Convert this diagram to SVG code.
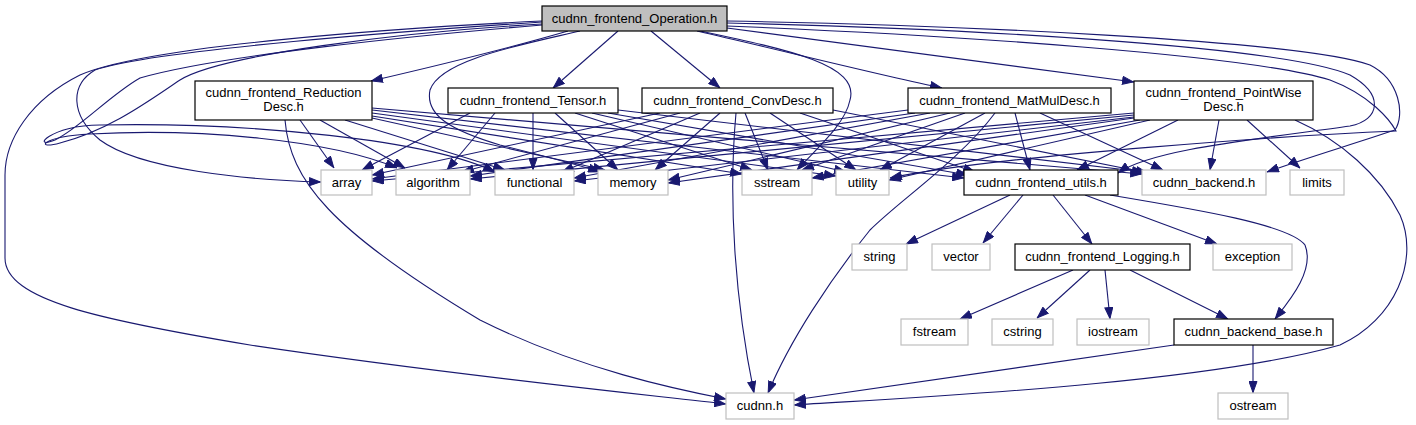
<svg xmlns="http://www.w3.org/2000/svg" width="1416" height="425" viewBox="0 0 1416 425">
<defs>
<marker id="ah" viewBox="0 0 12 9" refX="12" refY="4.5" markerWidth="12" markerHeight="9" markerUnits="userSpaceOnUse" orient="auto">
<path d="M0.5,0.5 L11.5,4.5 L0.5,8.5 Z" fill="#191970" stroke="#191970" stroke-width="1"/>
</marker>
<style>
.e path{fill:none;stroke:#191970;stroke-width:1.1;marker-end:url(#ah)}
.n rect{fill:#ffffff;stroke:#000000;stroke-width:1.2}
.x rect{fill:#ffffff;stroke:#bfbfbf;stroke-width:1.2}
.r rect{fill:#bfbfbf;stroke:#000000;stroke-width:1.2}
text{font-family:"Liberation Sans",Arial,Helvetica,sans-serif;font-size:13px;text-anchor:middle;fill:#000000}
</style>
</defs>
<rect width="1416" height="425" fill="#ffffff"/>
<g id="edges" class="e">
<!-- Operation -->
<path d="M568,31 C520,45 440,65 371,81"/>
<path d="M618,31 L553,88"/>
<path d="M651,31 L720,88"/>
<path d="M697,31 C780,50 880,75 942,88"/>
<path d="M727,28 C900,50 1050,70 1134,82"/>
<path d="M700,31 C790,50 860,65 850,100 C845,125 815,150 797,170"/>
<path d="M542,21 C400,28 150,45 80,75 C30,100 5,140 5,175 L5,258 C5,300 100,320 250,345 C450,375 650,395 726,404"/>
<path d="M542,22 C420,30 150,50 95,70 C70,85 70,115 100,140 C140,170 250,180 321,182"/>
<path d="M542,24 C400,32 220,55 180,80 C150,100 110,130 60,143 C35,150 40,137 90,134 C200,128 330,140 397,168"/>
<path d="M542,25 C420,35 220,55 140,78 C110,95 80,128 55,140 C30,150 50,125 100,125 C250,122 430,140 495,172"/>
<path d="M580,31 C520,45 440,60 430,90 C425,115 450,130 500,145 C540,155 580,165 600,172"/>
<path d="M727,26 C950,35 1250,55 1330,80 C1370,95 1390,120 1396,131 C1300,135 1000,155 890,178"/>
<path d="M727,23 C950,28 1280,45 1350,75 C1385,95 1380,120 1350,126 C1250,140 1150,150 1118,173"/>
<path d="M727,21 C950,25 1300,40 1370,65 C1400,80 1405,115 1395,130 C1350,145 1300,160 1267,172"/>
<!-- Reduction -->
<path d="M300,120 L334,168"/>
<path d="M320,120 L405,168"/>
<path d="M345,120 L505,170"/>
<path d="M372,118 L605,170"/>
<path d="M372,116 L742,174"/>
<path d="M372,113 L836,176"/>
<path d="M372,110 L964,178"/>
<path d="M372,108 L1142,174"/>
<path d="M285,120 C290,180 330,230 480,320 C580,370 680,390 726,399"/>
<!-- Tensor -->
<path d="M470,113 L362,170"/>
<path d="M495,113 L447,170"/>
<path d="M533,113 L533,170"/>
<path d="M555,113 L618,170"/>
<path d="M575,113 L752,170"/>
<path d="M592,113 L846,172"/>
<path d="M608,113 L968,175"/>
<path d="M618,110 L1144,172"/>
<!-- ConvDesc -->
<path d="M660,113 L372,175"/>
<path d="M680,113 L462,172"/>
<path d="M700,113 L562,172"/>
<path d="M720,113 L655,170"/>
<path d="M745,113 L768,170"/>
<path d="M770,113 L856,170"/>
<path d="M800,113 L975,172"/>
<path d="M833,110 L1148,173"/>
<path d="M736,113 C728,200 735,300 754,393"/>
<!-- MatMul -->
<path d="M908,110 L372,179"/>
<path d="M915,113 L470,176"/>
<path d="M930,113 L574,178"/>
<path d="M950,113 L668,180"/>
<path d="M965,113 L802,170"/>
<path d="M985,113 L880,170"/>
<path d="M1015,113 L1030,170"/>
<path d="M1040,113 L1163,170"/>
<path d="M995,113 C960,160 900,200 870,230 C830,280 790,340 768,393"/>
<!-- PointWise -->
<path d="M1134,113 L372,181"/>
<path d="M1134,115 L470,179"/>
<path d="M1134,117 L574,181"/>
<path d="M1134,118 L668,183"/>
<path d="M1140,120 L812,178"/>
<path d="M1150,120 L889,180"/>
<path d="M1178,120 L1077,170"/>
<path d="M1219,120 L1210,170"/>
<path d="M1247,120 L1300,168"/>
<path d="M1295,120 C1340,140 1380,175 1400,215 C1420,260 1395,320 1340,345 C1200,385 900,398 794,405"/>
<!-- utils -->
<path d="M1010,195 L906,244"/>
<path d="M1023,195 L983,243"/>
<path d="M1053,195 L1092,244"/>
<path d="M1085,195 L1217,244"/>
<path d="M1110,195 C1200,210 1290,225 1305,245 C1315,270 1290,300 1275,319"/>
<!-- Logging -->
<path d="M1073,270 L960,319"/>
<path d="M1090,270 L1037,318"/>
<path d="M1105,270 L1110,319"/>
<path d="M1130,270 L1228,319"/>
<!-- backend_base -->
<path d="M1174,345 L794,400"/>
<path d="M1253,345 L1253,393"/>
</g>
<g id="node_operation" class="r"><rect x="542" y="6" width="185" height="25"/><text x="634.5" y="23">cudnn_frontend_Operation.h</text></g>
<g id="node_reduction" class="n"><rect x="195" y="81" width="177" height="39"/><text x="283.5" y="97">cudnn_frontend_Reduction</text><text x="283.5" y="111">Desc.h</text></g>
<g id="node_tensor" class="n"><rect x="448" y="88" width="170" height="25"/><text x="533" y="105">cudnn_frontend_Tensor.h</text></g>
<g id="node_conv" class="n"><rect x="642" y="88" width="191" height="25"/><text x="737.5" y="105">cudnn_frontend_ConvDesc.h</text></g>
<g id="node_matmul" class="n"><rect x="908" y="88" width="203" height="25"/><text x="1009.5" y="105">cudnn_frontend_MatMulDesc.h</text></g>
<g id="node_pointwise" class="n"><rect x="1134" y="81" width="179" height="39"/><text x="1223.5" y="97">cudnn_frontend_PointWise</text><text x="1223.5" y="111">Desc.h</text></g>
<g id="node_array" class="x"><rect x="321" y="170" width="51" height="25"/><text x="346.5" y="187">array</text></g>
<g id="node_algorithm" class="x"><rect x="396" y="170" width="74" height="25"/><text x="433" y="187">algorithm</text></g>
<g id="node_functional" class="x"><rect x="495" y="170" width="79" height="25"/><text x="534.5" y="187">functional</text></g>
<g id="node_memory" class="x"><rect x="598" y="170" width="70" height="25"/><text x="633" y="187">memory</text></g>
<g id="node_sstream" class="x"><rect x="742" y="170" width="70" height="25"/><text x="777" y="187">sstream</text></g>
<g id="node_utility" class="x"><rect x="836" y="170" width="53" height="25"/><text x="862.5" y="187">utility</text></g>
<g id="node_utils" class="n"><rect x="964" y="170" width="154" height="25"/><text x="1041" y="187">cudnn_frontend_utils.h</text></g>
<g id="node_backend" class="x"><rect x="1142" y="170" width="124" height="25"/><text x="1204" y="187">cudnn_backend.h</text></g>
<g id="node_limits" class="x"><rect x="1290" y="170" width="54" height="25"/><text x="1317" y="187">limits</text></g>
<g id="node_string" class="x"><rect x="852" y="244" width="55" height="26"/><text x="879.5" y="261">string</text></g>
<g id="node_vector" class="x"><rect x="932" y="244" width="58" height="26"/><text x="961" y="261">vector</text></g>
<g id="node_logging" class="n"><rect x="1015" y="244" width="175" height="26"/><text x="1102.5" y="261">cudnn_frontend_Logging.h</text></g>
<g id="node_exception" class="x"><rect x="1213" y="244" width="79" height="26"/><text x="1252.5" y="261">exception</text></g>
<g id="node_fstream" class="x"><rect x="901" y="319" width="67" height="26"/><text x="934.5" y="336">fstream</text></g>
<g id="node_cstring" class="x"><rect x="992" y="319" width="61" height="26"/><text x="1022.5" y="336">cstring</text></g>
<g id="node_iostream" class="x"><rect x="1077" y="319" width="72" height="26"/><text x="1113" y="336">iostream</text></g>
<g id="node_base" class="n"><rect x="1174" y="319" width="159" height="26"/><text x="1253.5" y="336">cudnn_backend_base.h</text></g>
<g id="node_cudnn" class="x"><rect x="726" y="393" width="68" height="26"/><text x="760" y="410">cudnn.h</text></g>
<g id="node_ostream" class="x"><rect x="1218" y="393" width="70" height="26"/><text x="1253" y="410">ostream</text></g>
</svg>
